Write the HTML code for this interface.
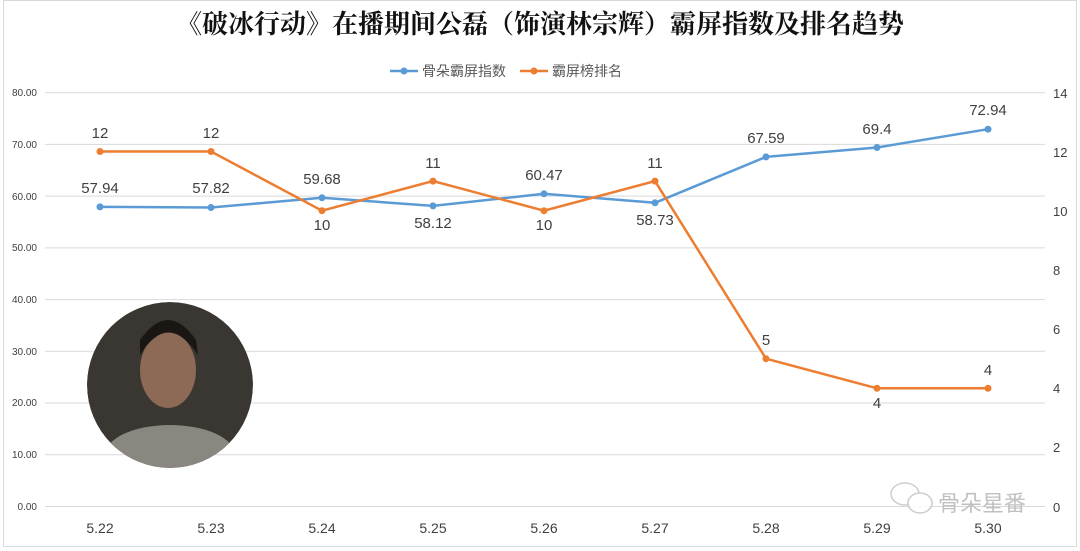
<!DOCTYPE html>
<html><head><meta charset="utf-8"><style>
body{margin:0;background:#fff;}
svg{display:block;font-family:"Liberation Sans","Noto Sans CJK SC",sans-serif;}
</style></head><body>
<svg width="1080" height="551" viewBox="0 0 1080 551" xmlns="http://www.w3.org/2000/svg">
<defs><clipPath id="c"><circle cx="170" cy="385" r="83"/></clipPath></defs>
<rect x="0" y="0" width="1080" height="551" fill="#fff"/>
<rect x="3.5" y="0.5" width="1073" height="546" fill="none" stroke="#d9d9d9"/>
<text x="540" y="33" text-anchor="middle" font-size="26" font-weight="bold" fill="#111" font-family="'Noto Serif CJK SC','Noto Sans CJK SC',serif">《破冰行动》在播期间公磊（饰演林宗辉）霸屏指数及排名趋势</text>
<g font-size="14" fill="#595959">
<line x1="390" y1="71" x2="418" y2="71" stroke="#5b9bd5" stroke-width="2.5"/><circle cx="404" cy="71" r="3.5" fill="#5b9bd5"/>
<text x="422" y="76">骨朵霸屏指数</text>
<line x1="520" y1="71" x2="548" y2="71" stroke="#ed7d31" stroke-width="2.5"/><circle cx="534" cy="71" r="3.5" fill="#ed7d31"/>
<text x="552" y="76">霸屏榜排名</text>
</g>
<g stroke="#d9d9d9" stroke-width="1">
<line x1="45" y1="92.7" x2="1045" y2="92.7"/>
<line x1="45" y1="144.4" x2="1045" y2="144.4"/>
<line x1="45" y1="196.1" x2="1045" y2="196.1"/>
<line x1="45" y1="247.9" x2="1045" y2="247.9"/>
<line x1="45" y1="299.6" x2="1045" y2="299.6"/>
<line x1="45" y1="351.3" x2="1045" y2="351.3"/>
<line x1="45" y1="403" x2="1045" y2="403"/>
<line x1="45" y1="454.7" x2="1045" y2="454.7"/>
<line x1="45" y1="506.5" x2="1045" y2="506.5"/>
</g>
<g font-size="10" fill="#404040" text-anchor="end">
<text x="37" y="96">80.00</text><text x="37" y="148">70.00</text><text x="37" y="200">60.00</text>
<text x="37" y="251">50.00</text><text x="37" y="303">40.00</text><text x="37" y="355">30.00</text>
<text x="37" y="406">20.00</text><text x="37" y="458">10.00</text><text x="37" y="510">0.00</text>
</g>
<g font-size="13" fill="#404040">
<text x="1053" y="98">14</text><text x="1053" y="157">12</text><text x="1053" y="216">10</text>
<text x="1053" y="275">8</text><text x="1053" y="334">6</text><text x="1053" y="393">4</text>
<text x="1053" y="452">2</text><text x="1053" y="512">0</text>
</g>
<g font-size="14" fill="#404040" text-anchor="middle">
<text x="100" y="533">5.22</text><text x="211" y="533">5.23</text><text x="322" y="533">5.24</text>
<text x="433" y="533">5.25</text><text x="544" y="533">5.26</text><text x="655" y="533">5.27</text>
<text x="766" y="533">5.28</text><text x="877" y="533">5.29</text><text x="988" y="533">5.30</text>
</g>
<g clip-path="url(#c)">
<circle cx="170" cy="385" r="83" fill="#3a3632"/>
<ellipse cx="170" cy="455" rx="65" ry="30" fill="#8a8780"/>
<ellipse cx="168" cy="370" rx="28" ry="38" fill="#8c6a55"/>
<path d="M140 355 Q168 310 198 355 L196 340 Q168 300 140 340Z" fill="#1a1614"/>
</g>
<polyline fill="none" stroke="#5b9bd5" stroke-width="2.5" points="100,206.9 211,207.5 322,197.8 433,205.9 544,193.8 655,202.8 766,156.9 877,147.5 988,129.2"/>
<g fill="#5b9bd5"><circle cx="100" cy="206.9" r="3.5"/><circle cx="211" cy="207.5" r="3.5"/><circle cx="322" cy="197.8" r="3.5"/><circle cx="433" cy="205.9" r="3.5"/><circle cx="544" cy="193.8" r="3.5"/><circle cx="655" cy="202.8" r="3.5"/><circle cx="766" cy="156.9" r="3.5"/><circle cx="877" cy="147.5" r="3.5"/><circle cx="988" cy="129.2" r="3.5"/></g>
<polyline fill="none" stroke="#ed7d31" stroke-width="2.5" points="100,151.5 211,151.5 322,210.7 433,181.1 544,210.7 655,181.1 766,358.7 877,388.3 988,388.3"/>
<g fill="#ed7d31"><circle cx="100" cy="151.5" r="3.5"/><circle cx="211" cy="151.5" r="3.5"/><circle cx="322" cy="210.7" r="3.5"/><circle cx="433" cy="181.1" r="3.5"/><circle cx="544" cy="210.7" r="3.5"/><circle cx="655" cy="181.1" r="3.5"/><circle cx="766" cy="358.7" r="3.5"/><circle cx="877" cy="388.3" r="3.5"/><circle cx="988" cy="388.3" r="3.5"/></g>
<g font-size="15" fill="#404040" text-anchor="middle">
<text x="100" y="193">57.94</text><text x="211" y="193">57.82</text><text x="322" y="184">59.68</text>
<text x="433" y="228">58.12</text><text x="544" y="180">60.47</text><text x="655" y="225">58.73</text>
<text x="766" y="143">67.59</text><text x="877" y="134">69.4</text><text x="988" y="115">72.94</text>
<text x="100" y="138">12</text><text x="211" y="138">12</text><text x="322" y="230">10</text>
<text x="433" y="168">11</text><text x="544" y="230">10</text><text x="655" y="168">11</text>
<text x="766" y="345">5</text><text x="877" y="408">4</text><text x="988" y="375">4</text>
</g>
<g fill="#fff" stroke="#c8c8c8" stroke-width="1.5" opacity="0.9">
<ellipse cx="905" cy="494" rx="14" ry="11"/><ellipse cx="920" cy="503" rx="12" ry="10"/>
</g>
<text x="938" y="511" font-size="22" fill="#c0c0c0">骨朵星番</text>
</svg>
</body></html>
